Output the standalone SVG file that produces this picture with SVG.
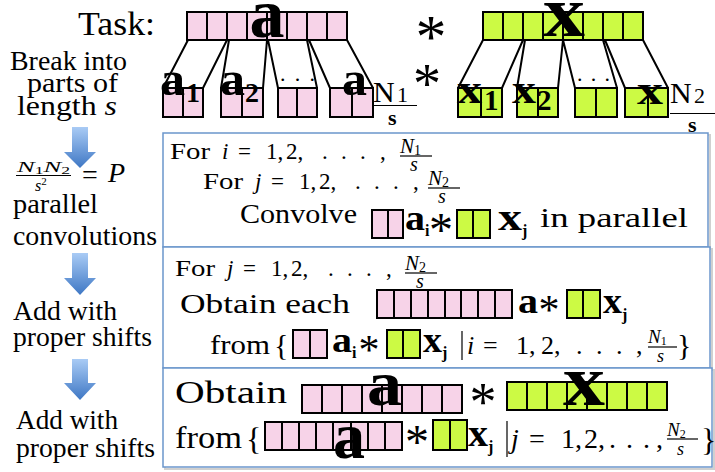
<svg xmlns="http://www.w3.org/2000/svg" width="715" height="472" viewBox="0 0 715 472" font-family="Liberation Serif, Times New Roman, serif">
<defs>
<style>
.b{font-weight:bold}
.i{font-style:italic}
.pk{fill:#f7d3e8;stroke:#000;stroke-width:2}
.gr{fill:#ccfa44;stroke:#000;stroke-width:2}
.dv{stroke:#000;stroke-width:2;fill:none}
.ln{stroke:#000;stroke-width:2;fill:none}
.fl{stroke:#000;stroke-width:1.2}
.box{fill:#fff;stroke:#6b96cc;stroke-width:1.5}
.sh{fill:none;stroke:#d0d0d0;stroke-width:2}
.ar{fill:url(#ag)}
</style>
<linearGradient id="ag" x1="0" y1="0" x2="0" y2="1">
<stop offset="0" stop-color="#a9cbf5"/>
<stop offset="1" stop-color="#3e77c4"/>
</linearGradient>
</defs>
<rect width="715" height="472" fill="#fff"/>

<g id="connectors">
<path class="ln" d="M188 40L163 88M227 40L203 88M229 40L221 88M267 40L263 88M268 40L278 88M307 40L317 88M309 40L330 88M347 40L373 88"/>
<path class="ln" d="M483 40L458 88M523 40L502 88M525 40L517 88M563 40L558 88M563 40L575 88M603 40L617 88M605 40L625 88M643 40L668 88"/>
</g>

<g id="task">
<text x="78" y="35" font-size="34" textLength="77" lengthAdjust="spacingAndGlyphs">Task:</text>
<rect class="pk" x="187" y="12" width="160" height="28"/>
<path class="dv" d="M207 12v28M227 12v28M247 12v28M267 12v28M287 12v28M307 12v28M327 12v28"/>
<text class="b" x="267" y="37" font-size="70" text-anchor="middle">a</text>
<text x="431" y="57" font-size="62" text-anchor="middle">*</text>
<rect class="gr" x="483" y="12" width="160" height="28"/>
<path class="dv" d="M503 12v28M523 12v28M543 12v28M563 12v28M583 12v28M603 12v28M623 12v28"/>
<text class="b" x="543" y="36" font-size="72" textLength="42" lengthAdjust="spacingAndGlyphs">x</text>
</g>

<g id="pieces">
<rect class="pk" x="163" y="88" width="40" height="29"/><path class="dv" d="M183 88v29"/>
<rect class="pk" x="221" y="88" width="42" height="29"/><path class="dv" d="M242 88v29"/>
<rect class="pk" x="278" y="88" width="39" height="29"/><path class="dv" d="M297 88v29"/>
<rect class="pk" x="330" y="88" width="43" height="29"/><path class="dv" d="M352 88v29"/>
<text class="b" x="160" y="95" font-size="48" textLength="25" lengthAdjust="spacingAndGlyphs">a</text>
<text class="b" x="186" y="102" font-size="28">1</text>
<text class="b" x="220" y="95" font-size="48" textLength="25" lengthAdjust="spacingAndGlyphs">a</text>
<text class="b" x="245" y="102" font-size="28">2</text>
<text x="280" y="81" font-size="22" textLength="35" lengthAdjust="spacing">. . .</text>
<text class="b" x="342" y="95" font-size="48" textLength="25" lengthAdjust="spacingAndGlyphs">a</text>
<text x="373" y="102" font-size="30">N</text>
<text x="397" y="102" font-size="22">1</text>
<line class="fl" x1="373" y1="105.5" x2="417" y2="105.5"/>
<text class="b" x="388" y="125" font-size="22">s</text>
<text x="427" y="103" font-size="56" text-anchor="middle">*</text>

<rect class="gr" x="458" y="88" width="44" height="29"/><path class="dv" d="M481 88v29"/>
<rect class="gr" x="517" y="88" width="41" height="29"/><path class="dv" d="M538 88v29"/>
<rect class="gr" x="575" y="88" width="42" height="29"/><path class="dv" d="M596 88v29"/>
<rect class="gr" x="625" y="88" width="43" height="29"/><path class="dv" d="M648 88v29"/>
<text class="b" x="457" y="103" font-size="42" textLength="25" lengthAdjust="spacingAndGlyphs">x</text>
<text class="b" x="484" y="110" font-size="29">1</text>
<text class="b" x="512" y="103" font-size="42" textLength="24" lengthAdjust="spacingAndGlyphs">x</text>
<text class="b" x="537" y="110" font-size="29">2</text>
<text x="577" y="81" font-size="22" textLength="33" lengthAdjust="spacing">. . .</text>
<text class="b" x="637" y="104" font-size="42" textLength="26" lengthAdjust="spacingAndGlyphs">x</text>
<text x="670" y="103" font-size="30">N</text>
<text x="694" y="103" font-size="22">2</text>
<line class="fl" x1="670" y1="113.5" x2="715" y2="113.5"/>
<text class="b" x="688" y="132" font-size="22">s</text>
</g>

<g id="left-column">
<text x="10" y="70" font-size="27" textLength="117" lengthAdjust="spacingAndGlyphs">Break into</text>
<text x="27" y="92" font-size="27" textLength="91" lengthAdjust="spacingAndGlyphs">parts of</text>
<text x="17" y="115" font-size="27" textLength="100" lengthAdjust="spacingAndGlyphs">length <tspan class="i">s</tspan></text>
<path id="arrow1" class="ar" d="M72 127H88V152H96L80 168L64 152H72Z"/>
<text class="i" x="17" y="172" font-size="15" textLength="53" lengthAdjust="spacingAndGlyphs">N<tspan font-size="10" font-style="normal" dy="2">1</tspan><tspan dy="-2">N</tspan><tspan font-size="10" font-style="normal" dy="2">2</tspan></text>
<line class="fl" x1="16" y1="175.5" x2="71" y2="175.5"/>
<text class="i" x="35" y="191" font-size="16">s<tspan font-size="11" font-style="normal" dy="-6">2</tspan></text>
<text x="82" y="184" font-size="28">=</text>
<text class="i" x="108" y="182" font-size="28">P</text>
<text x="13" y="213" font-size="28" textLength="85" lengthAdjust="spacingAndGlyphs">parallel</text>
<text x="13" y="245" font-size="28" textLength="144" lengthAdjust="spacingAndGlyphs">convolutions</text>
<path id="arrow2" class="ar" d="M72 253H88V278H96L80 295L64 278H72Z"/>
<text x="13" y="320" font-size="28" textLength="104" lengthAdjust="spacingAndGlyphs">Add with</text>
<text x="13" y="346" font-size="28" textLength="139" lengthAdjust="spacingAndGlyphs">proper shifts</text>
<path id="arrow3" class="ar" d="M72 359H88V383H96L80 400L64 383H72Z"/>
<text x="16" y="429" font-size="28" textLength="102" lengthAdjust="spacingAndGlyphs">Add with</text>
<text x="16" y="457" font-size="28" textLength="139" lengthAdjust="spacingAndGlyphs">proper shifts</text>
</g>

<g id="box1">
<rect class="sh" x="165" y="135" width="545" height="114"/>
<rect class="box" x="163" y="133" width="545" height="114"/>
<text x="170" y="159" font-size="23" textLength="40" lengthAdjust="spacingAndGlyphs">For</text>
<text y="159" font-size="23"><tspan x="222" class="i">i</tspan><tspan x="238">=</tspan><tspan x="266">1,</tspan><tspan x="286">2,</tspan><tspan x="322">.</tspan><tspan x="341">.</tspan><tspan x="360">.</tspan><tspan x="380">,</tspan></text>
<text class="i" x="400" y="153" font-size="21">N<tspan font-size="14" font-style="normal" dy="2">1</tspan></text>
<line class="fl" x1="400" y1="156" x2="432" y2="156"/>
<text class="i" x="410" y="171" font-size="20">s</text>
<text x="203" y="189" font-size="23" textLength="40" lengthAdjust="spacingAndGlyphs">For</text>
<text y="189" font-size="23"><tspan x="255" class="i">j</tspan><tspan x="271">=</tspan><tspan x="299">1,</tspan><tspan x="319">2,</tspan><tspan x="355">.</tspan><tspan x="374">.</tspan><tspan x="393">.</tspan><tspan x="413">,</tspan></text>
<text class="i" x="428" y="185" font-size="21">N<tspan font-size="14" font-style="normal" dy="2">2</tspan></text>
<line class="fl" x1="428" y1="188" x2="460" y2="188"/>
<text class="i" x="438" y="203" font-size="20">s</text>
<text x="240" y="223" font-size="28" textLength="117" lengthAdjust="spacingAndGlyphs">Convolve</text>
<rect class="pk" x="372" y="210" width="31" height="28"/><path class="dv" d="M388 210v28"/>
<text class="b" x="405" y="230" font-size="36" textLength="20" lengthAdjust="spacingAndGlyphs">a</text>
<text class="b" x="425" y="236" font-size="16">i</text>
<text x="441" y="246" font-size="48" text-anchor="middle">*</text>
<rect class="gr" x="457" y="210" width="33" height="28"/><path class="dv" d="M473 210v28"/>
<text class="b" x="498" y="230" font-size="38" textLength="24" lengthAdjust="spacingAndGlyphs">x</text>
<text class="b" x="522" y="236" font-size="16">j</text>
<text x="540" y="227" font-size="28" textLength="148" lengthAdjust="spacingAndGlyphs">in parallel</text>
</g>

<g id="box2">
<rect class="sh" x="165" y="249" width="547" height="121"/>
<rect class="box" x="163" y="247" width="547" height="121"/>
<text x="175" y="276" font-size="23" textLength="40" lengthAdjust="spacingAndGlyphs">For</text>
<text y="276" font-size="23"><tspan x="227" class="i">j</tspan><tspan x="243">=</tspan><tspan x="271">1,</tspan><tspan x="291">2,</tspan><tspan x="328">.</tspan><tspan x="347">.</tspan><tspan x="366">.</tspan><tspan x="386">,</tspan></text>
<text class="i" x="405" y="270" font-size="21">N<tspan font-size="14" font-style="normal" dy="2">2</tspan></text>
<line class="fl" x1="405" y1="273" x2="437" y2="273"/>
<text class="i" x="416" y="288" font-size="20">s</text>
<text x="180" y="313" font-size="28" textLength="170" lengthAdjust="spacingAndGlyphs">Obtain each</text>
<rect class="pk" x="377" y="290" width="135" height="28"/>
<path class="dv" d="M394 290v28M411 290v28M428 290v28M445 290v28M461 290v28M478 290v28M495 290v28"/>
<text class="b" x="518" y="313" font-size="36" textLength="20" lengthAdjust="spacingAndGlyphs">a</text>
<text x="549" y="324" font-size="42" text-anchor="middle">*</text>
<rect class="gr" x="567" y="290" width="33" height="28"/><path class="dv" d="M583 290v28"/>
<text class="b" x="603" y="313" font-size="36" textLength="19" lengthAdjust="spacingAndGlyphs">x</text>
<text class="b" x="622" y="320" font-size="16">j</text>
<text x="210" y="354" font-size="28" textLength="60" lengthAdjust="spacingAndGlyphs">from</text>
<text x="274" y="355" font-size="30">{</text>
<rect class="pk" x="293" y="330" width="34" height="28"/><path class="dv" d="M310 330v28"/>
<text class="b" x="332" y="352" font-size="36" textLength="20" lengthAdjust="spacingAndGlyphs">a</text>
<text class="b" x="352" y="358" font-size="16">i</text>
<text x="369" y="364" font-size="42" text-anchor="middle">*</text>
<rect class="gr" x="387" y="330" width="33" height="28"/><path class="dv" d="M403 330v28"/>
<text class="b" x="423" y="352" font-size="36" textLength="19" lengthAdjust="spacingAndGlyphs">x</text>
<text class="b" x="442" y="358" font-size="16">j</text>
<line class="fl" x1="462" y1="331" x2="462" y2="360"/>
<text y="354" font-size="26"><tspan x="467" class="i">i</tspan><tspan x="483">=</tspan><tspan x="516">1,</tspan><tspan x="541">2,</tspan><tspan x="576">.</tspan><tspan x="596">.</tspan><tspan x="616">.</tspan><tspan x="636">,</tspan></text>
<text class="i" x="648" y="343" font-size="19">N<tspan font-size="12" font-style="normal" dy="2">1</tspan></text>
<line class="fl" x1="648" y1="347" x2="677" y2="347"/>
<text class="i" x="657" y="362" font-size="18">s</text>
<text x="677" y="355" font-size="30">}</text>
</g>

<g id="box3">
<rect class="sh" x="165" y="370" width="549" height="99"/>
<rect class="box" x="163" y="368" width="549" height="99"/>
<text x="175" y="403" font-size="31" textLength="112" lengthAdjust="spacingAndGlyphs">Obtain</text>
<rect class="pk" x="302" y="385" width="160" height="28"/>
<path class="dv" d="M322 385v28M342 385v28M362 385v28M382 385v28M402 385v28M422 385v28M442 385v28"/>
<text class="b" x="367" y="405" font-size="64" textLength="35" lengthAdjust="spacingAndGlyphs">a</text>
<text x="483" y="420" font-size="54" text-anchor="middle">*</text>
<rect class="gr" x="507" y="382" width="160" height="28"/>
<path class="dv" d="M527 382v28M547 382v28M567 382v28M587 382v28M607 382v28M627 382v28M647 382v28"/>
<text class="b" x="563" y="405" font-size="72" textLength="42" lengthAdjust="spacingAndGlyphs">x</text>
<text x="175" y="448" font-size="31" textLength="67" lengthAdjust="spacingAndGlyphs">from</text>
<text x="246" y="450" font-size="32">{</text>
<rect class="pk" x="265" y="422" width="137" height="28"/>
<path class="dv" d="M282 422v28M299 422v28M316 422v28M333 422v28M351 422v28M368 422v28M385 422v28"/>
<text class="b" x="333" y="458" font-size="66" textLength="32" lengthAdjust="spacingAndGlyphs">a</text>
<text x="417" y="458" font-size="48" text-anchor="middle">*</text>
<rect class="gr" x="433" y="420" width="34" height="30"/><path class="dv" d="M450 420v30"/>
<text class="b" x="468" y="446" font-size="38" textLength="20" lengthAdjust="spacingAndGlyphs">x</text>
<text class="b" x="488" y="452" font-size="16">j</text>
<line class="fl" x1="507" y1="421" x2="507" y2="457"/>
<text y="448" font-size="28"><tspan x="511" class="i">j</tspan><tspan x="529">=</tspan><tspan x="561">1,</tspan><tspan x="584">2,</tspan><tspan x="609">.</tspan><tspan x="626">.</tspan><tspan x="643">.</tspan><tspan x="656">,</tspan></text>
<text class="i" x="667" y="436" font-size="19">N<tspan font-size="12" font-style="normal" dy="2">2</tspan></text>
<line class="fl" x1="667" y1="439" x2="698" y2="439"/>
<text class="i" x="677" y="455" font-size="18">s</text>
<text x="701" y="451" font-size="32">}</text>
</g>
</svg>
